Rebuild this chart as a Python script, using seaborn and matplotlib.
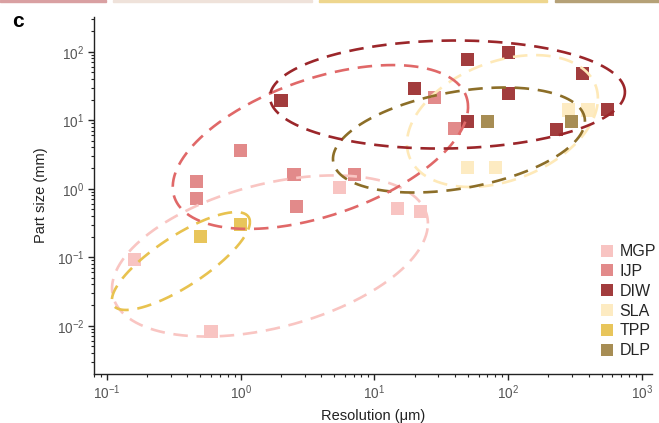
import numpy as np
import pandas as pd
import seaborn as sns
import matplotlib.pyplot as plt
import matplotlib.ticker as mticker
from matplotlib.lines import Line2D
from matplotlib.patches import Rectangle

# -------------------------------
# Data
# -------------------------------
methods = ["MGP", "IJP", "DIW", "SLA", "TPP", "DLP"]
point_colors = ["#F8C4C2", "#E28A8A", "#A23C3D", "#FDEBC2", "#E8C55B", "#A78D54"]
ring_colors = ["#F9C5C2", "#E06868", "#9B262A", "#FEE9B8", "#E8C24F", "#8C6E28"]

mgp_res = [0.16, 0.60, 5.5, 14.8, 22]
mgp_size = [0.093, 0.0083, 1.05, 0.52, 0.47]
ijp_res = [1.0, 0.47, 0.47, 2.5, 2.6, 7.1, 28, 39.5]
ijp_size = [3.6, 1.28, 0.72, 1.62, 0.55, 1.62, 21.6, 7.6]
diw_res = [2.0, 19.9, 49.4, 100, 358, 100, 49.4, 229, 550]
diw_size = [19.5, 29, 77, 98, 48, 24.7, 9.6, 7.4, 14.4]
sla_res = [281, 396, 49.4, 80]
sla_size = [14.1, 14.1, 2.05, 2.05]
tpp_res = [0.50, 1.0]
tpp_size = [0.20, 0.30]
dlp_res = [70, 296]
dlp_size = [9.6, 9.6]

# ellipse outlines per method (log10 units): centre, half width, half height, tilt
ell_cx = [0.219, 0.596, 1.546, 1.957, -0.447, 1.632]
ell_cy = [-0.982, 0.609, 1.375, 0.988, -1.056, 0.711]
ell_rx = [1.181, 1.104, 1.327, 0.714, 0.516, 0.942]
ell_ry = [1.076, 1.044, 0.788, 0.905, 0.431, 0.715]
ell_tilt = [0.402, 0.529, 0.0275, 0.46, 1.104, 0.294]

res_all = [mgp_res, ijp_res, diw_res, sla_res, tpp_res, dlp_res]
size_all = [mgp_size, ijp_size, diw_size, sla_size, tpp_size, dlp_size]

rows = []
for m, xs, ys in zip(methods, res_all, size_all):
    for x, y in zip(xs, ys):
        rows.append([m, x, y])
df = pd.DataFrame(rows, columns=["Method", "Resolution", "Size"])

# -------------------------------
# Style
# -------------------------------
sns.set_style("ticks")
plt.rcParams["font.family"] = ["Liberation Sans", "DejaVu Sans"]
plt.rcParams["mathtext.fontset"] = "custom"
plt.rcParams["mathtext.rm"] = "Liberation Sans"

fig = plt.figure(figsize=(6.59, 4.23), dpi=100)
ax = fig.add_axes([0.1426, 0.117, 0.8467, 0.842])

sns.scatterplot(
    data=df, x="Resolution", y="Size", hue="Method",
    palette=dict(zip(methods, point_colors)), marker="s", s=92,
    linewidth=0, legend=False, ax=ax, zorder=2,
)

t = np.linspace(0, 2 * np.pi, 400)
draw_order = [0, 4, 3, 5, 1, 2]
for i in draw_order:
    lx = ell_cx[i] + ell_rx[i] * np.cos(t)
    ly = ell_cy[i] + ell_ry[i] * np.sin(t) + ell_tilt[i] * ell_rx[i] * np.cos(t)
    ax.plot(10 ** lx, 10 ** ly, color=ring_colors[i], lw=1.9,
            dashes=(5.5, 3.3), zorder=3)

ax.set_xscale("log")
ax.set_yscale("log")
ax.set_xlim(10 ** -1.097, 10 ** 3.075)
ax.set_ylim(10 ** -2.698, 10 ** 2.502)

for a in (ax.xaxis, ax.yaxis):
    a.set_major_locator(mticker.LogLocator(base=10, numticks=10))
    a.set_minor_locator(mticker.LogLocator(base=10, subs=np.arange(2, 10), numticks=10))
    a.set_minor_formatter(mticker.NullFormatter())
ax.tick_params(which="major", length=4, width=1, colors="#222222",
               labelcolor="#555555", labelsize=9.8, pad=3)
ax.tick_params(which="minor", length=2.5, width=0.8, colors="#222222")
sns.despine(ax=ax)
for sp in ("left", "bottom"):
    ax.spines[sp].set_color("#222222")
    ax.spines[sp].set_linewidth(1.0)

ax.set_xlabel("Resolution (μm)", fontsize=10.5, color="#222222", labelpad=5)
ax.set_ylabel("Part size (mm)", fontsize=10.5, color="#222222", labelpad=6)

handles = [Line2D([], [], marker="s", linestyle="none", markersize=9.3,
                  markerfacecolor=c, markeredgewidth=0) for c in point_colors]
ax.legend(handles, methods, loc="upper left", bbox_to_anchor=(0.905, 0.363),
          frameon=False, fontsize=11.5, handlelength=1.0, handletextpad=0.3,
          labelspacing=0.3, borderpad=0, borderaxespad=0)

fig.text(0.018, 0.935, "c", fontsize=15, fontweight="black", color="black")

# coloured strips left over along the top edge
for x0, x1, c in [(0, 106, "#D9A0A2"), (113, 312, "#EFE2DA"),
                  (319, 547, "#EED68E"), (555, 659, "#B5A177")]:
    fig.patches.append(Rectangle((x0 / 659, 1 - 2.5 / 423), (x1 - x0) / 659, 2.5 / 423,
                                 transform=fig.transFigure, color=c, zorder=0))

fig.savefig("out.png", dpi=100)
